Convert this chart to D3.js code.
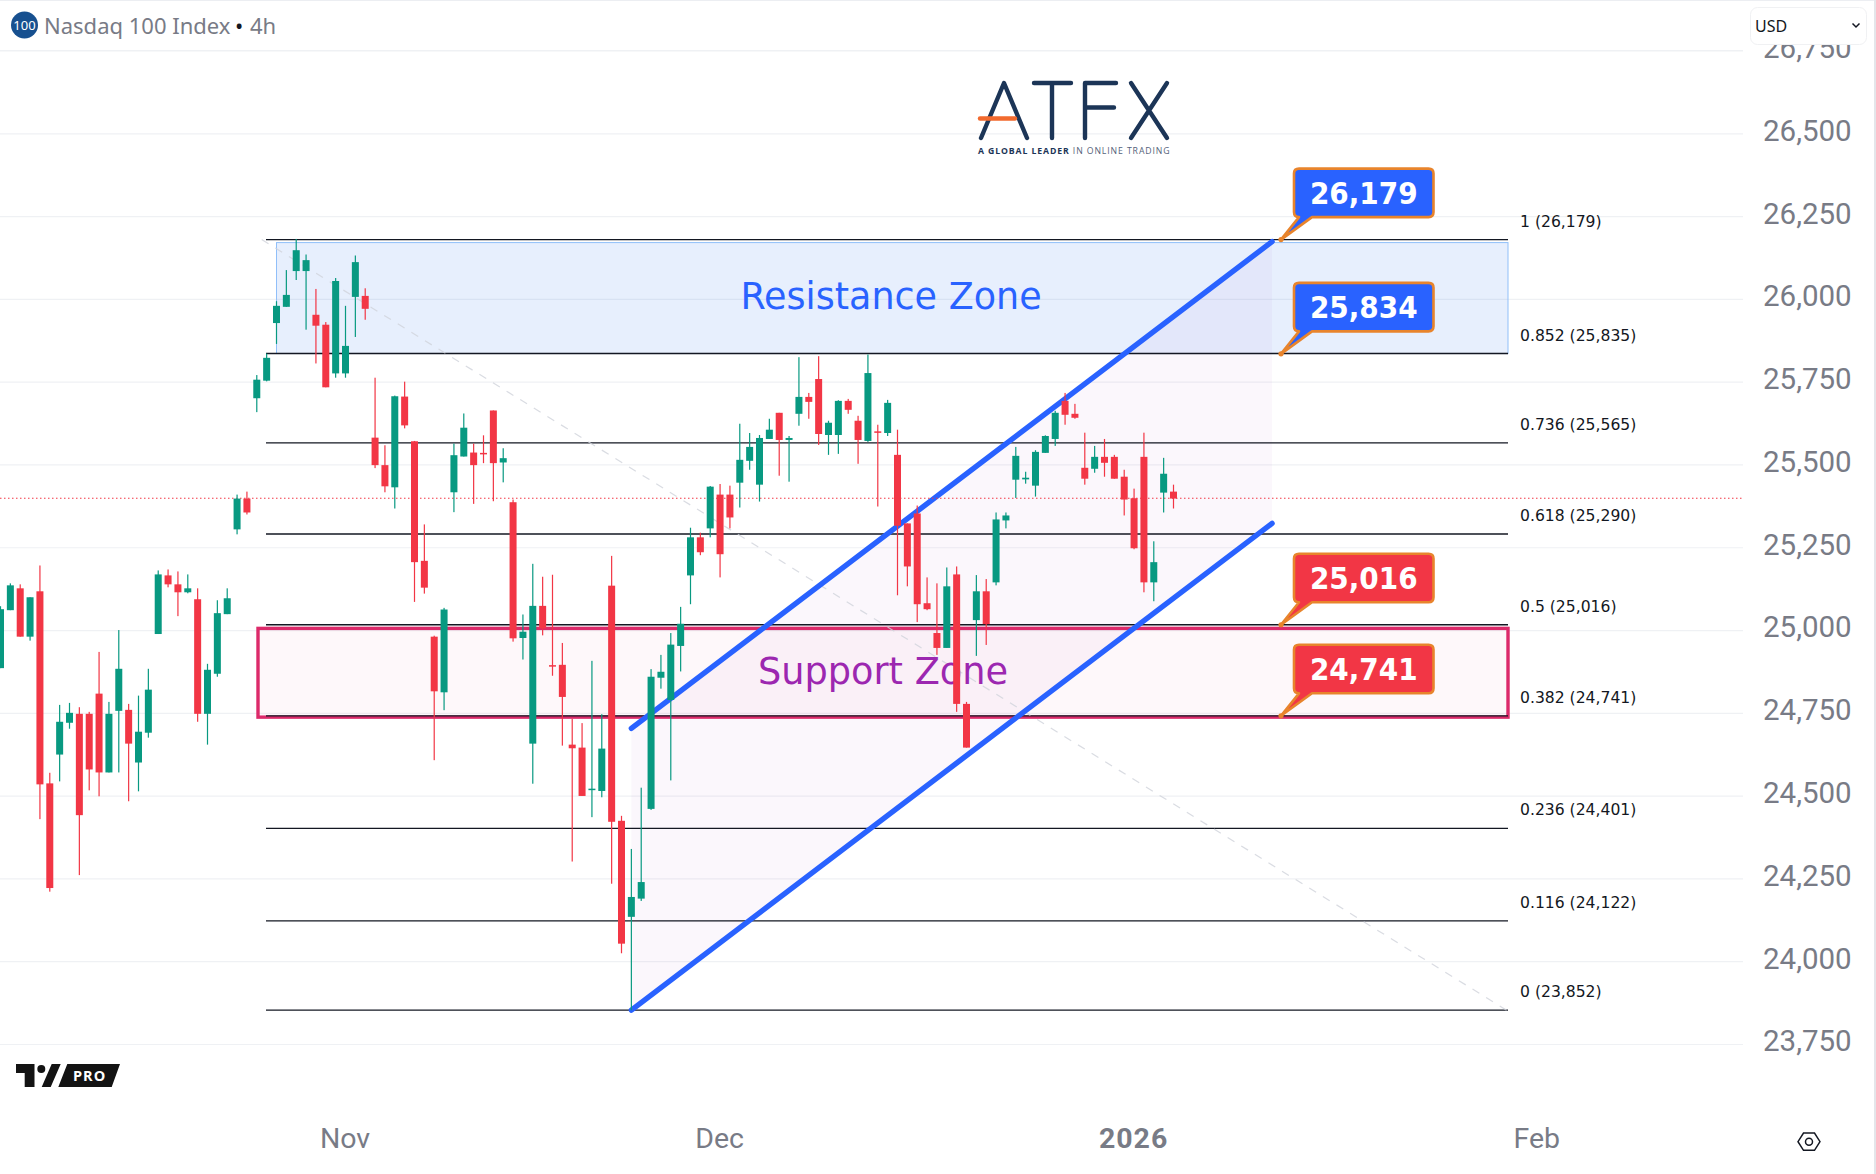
<!DOCTYPE html>
<html>
<head>
<meta charset="utf-8">
<title>Nasdaq 100 Index 4h</title>
<script src="https://cdn.jsdelivr.net/npm/d3@7"></script>
<style>
  html, body { margin: 0; padding: 0; background: #fff; }
  svg { display: block; }
</style>
</head>
<body>
<div id="chart"></div>
<script>
// 4h candles
const opens = [24885,25060,25126,24980,25117,24537,24624,24720,24747,24747,24808,24570,24756,24759,24600,24690,24988,25165,25138,25114,
  25093,24747,24868,25048,25304,25397,25700,25753,25927,25976,26084,26084,25952,25922,25775,25775,26006,26009,25581,25498,
  25431,25705,25570,25209,24980,24812,25416,25524,25536,25535,25663,25506,25386,24976,24657,25073,24894,24895,24654,24645,
  24519,24514,25134,24424,24134,24189,24460,24856,24789,24952,25165,25280,25307,25409,25409,25445,25511,25439,25577,25656,
  25574,25653,25704,25758,25589,25589,25692,25632,25571,25600,25595,25529,25322,25352,25081,24991,24946,25168,24777,25030,
  25117,25144,25331,25454,25455,25436,25535,25577,25692,25653,25490,25487,25523,25523,25463,25398,25523,25144,25415,25418];
const highs = [25072,25141,25138,25099,25195,24569,24774,24780,24767,24753,24934,24783,25000,24777,24802,24883,25180,25183,25177,25168,
  25126,24898,25090,25126,25409,25418,25770,25835,25993,26087,26181,26134,26030,25930,26063,25979,26131,26032,25762,25558,
  25708,25750,25571,25319,24983,25067,25563,25654,25563,25588,25663,25549,25394,25047,25200,25161,25167,24961,24732,24719,
  24907,24746,25224,24439,24339,24524,24882,24925,24991,25070,25309,25294,25435,25441,25436,25623,25595,25589,25638,25656,
  25586,25824,25716,25827,25632,25694,25698,25647,25832,25620,25695,25605,25322,25376,25159,25141,25189,25192,24783,25166,
  25154,25355,25355,25553,25478,25543,25588,25662,25716,25683,25596,25556,25577,25529,25484,25427,25596,25268,25520,25439];
const lows = [24885,25060,24980,24968,24429,24210,24543,24702,24260,24516,24498,24570,24570,24483,24513,24675,24988,25129,25042,25111,
  24723,24654,24859,25048,25289,25349,25658,25751,25864,25976,26057,25907,25805,25733,25762,25762,25885,25937,25489,25416,
  25367,25609,25085,25110,24607,24758,25356,25524,25381,25504,25389,25446,24965,24911,24536,24984,24862,24651,24301,24499,
  24435,24495,24234,24024,23852,24182,24457,24823,24546,24875,25078,25226,25280,25159,25307,25370,25484,25388,25577,25466,
  25448,25617,25638,25559,25529,25532,25653,25502,25568,25373,25586,25105,25132,25024,25060,24925,24946,24753,24645,24922,
  24955,25135,25307,25399,25442,25403,25535,25556,25620,25638,25439,25475,25463,25457,25346,25244,25114,25087,25355,25367];
const closes = [25063,25135,24980,25099,24534,24221,24723,24750,24441,24579,24570,24747,24883,24657,24693,24820,25168,25138,25114,25126,
  24747,24880,25051,25096,25397,25355,25756,25822,25979,26012,26147,26117,25919,25733,26054,25858,26111,25970,25498,25434,
  25706,25618,25205,25128,24815,25062,25528,25611,25498,25532,25504,25519,24975,24995,25073,25005,24890,24798,24643,24499,
  24521,24642,24421,24053,24194,24239,24859,24874,24956,25019,25280,25235,25433,25229,25340,25514,25553,25580,25605,25574,
  25580,25704,25689,25592,25626,25692,25665,25574,25776,25597,25686,25315,25192,25078,25063,24946,25132,24777,24645,25117,
  25018,25334,25346,25526,25460,25538,25586,25656,25650,25641,25457,25523,25505,25457,25394,25247,25144,25205,25472,25397];

const priceTicks = [23750,24000,24250,24500,24750,25000,25250,25500,25750,26000,26250,26500,26750];
const timeTicks = [34.9, 72.9, 114.9, 155.8];
const timeLabels = ["Nov", "Dec", "2026", "Feb"];

const fibRatios = ["1", "0.852", "0.736", "0.618", "0.5", "0.382", "0.236", "0.116", "0"];
const fibPrices = [26179, 25835, 25565, 25290, 25016, 24741, 24401, 24122, 23852];

const calloutPrices = [26179, 25834, 25016, 24741];
const calloutColors = ["#2962ff", "#2962ff", "#f23645", "#f23645"];

const resistanceZone = [26170, 25835];
const supportZone = [25005, 24737];
const lastPrice = 25398;

// channel: bar index and price at both ends
const channelBars = [64, 129];
const channelUpper = [24703, 26173];
const channelLower = [23852, 25322];

const width = 1876, height = 1174, plotRight = 1743;

const svg = d3.select("#chart").append("svg")
  .attr("width", width).attr("height", height)
  .style("font-family", "Roboto, sans-serif");

const x = d3.scaleLinear().domain([0, 119]).range([0.5, 1173.5]);
const y = d3.scaleLinear().domain([23750, 26500]).range([1044, 133.3]);
const fmt = d3.format(",");

svg.append("rect").attr("width", width).attr("height", height).attr("fill", "#fff");

// grid + price axis
const grid = svg.append("g").attr("transform", `translate(${plotRight},0)`)
  .call(d3.axisLeft(y).tickValues(priceTicks).tickSize(plotRight).tickFormat(""));
grid.select(".domain").remove();
grid.selectAll("line").attr("stroke", "#eff1f4").attr("stroke-width", 1.2);

const yAxis = svg.append("g").attr("transform", "translate(1763,-2.5)")
  .call(d3.axisRight(y).tickValues(priceTicks).tickSize(0).tickPadding(0).tickFormat(fmt));
yAxis.select(".domain").remove();
yAxis.selectAll("text").attr("fill", "#787b86").style("font-size", "29.5px").style("font-family", "Roboto, sans-serif");

// time axis
const xAxis = svg.append("g").attr("transform", "translate(0,1128)")
  .call(d3.axisBottom(x).tickValues(timeTicks).tickSize(0).tickPadding(0)
    .tickFormat((d, i) => timeLabels[i]));
xAxis.select(".domain").remove();
xAxis.selectAll("text").attr("fill", "#787b86").style("font-size", "28.5px")
  .style("font-family", "Roboto, sans-serif")
  .style("font-weight", (d, i) => timeLabels[i] === "2026" ? 700 : 400)
  .style("letter-spacing", (d, i) => timeLabels[i] === "2026" ? "1px" : "0");

// zones
const rectLeft = 276.5, rectRight = 1508;
svg.append("rect").attr("x", rectLeft).attr("y", y(resistanceZone[0]))
  .attr("width", rectRight - rectLeft).attr("height", y(resistanceZone[1]) - y(resistanceZone[0]))
  .attr("fill", "#216ef0").attr("fill-opacity", 0.11).attr("stroke", "#90bff9").attr("stroke-width", 1);

// channel fill
svg.append("path")
  .attr("d", `M${x(channelBars[0])},${y(channelUpper[0])} L${x(channelBars[1])},${y(channelUpper[1])}
    L${x(channelBars[1])},${y(channelLower[1])} L${x(channelBars[0])},${y(channelLower[0])} Z`)
  .attr("fill", "#9c27b0").attr("fill-opacity", 0.04);

svg.append("rect").attr("x", 258).attr("y", y(supportZone[0]))
  .attr("width", rectRight - 258).attr("height", y(supportZone[1]) - y(supportZone[0]))
  .attr("fill", "#e91e63").attr("fill-opacity", 0.03).attr("stroke", "#dc2a6a").attr("stroke-width", 3.4);

// fib levels
svg.append("g").selectAll("line").data(fibPrices).enter().append("line")
  .attr("x1", 266).attr("x2", rectRight)
  .attr("y1", d => y(d)).attr("y2", d => y(d))
  .attr("stroke", "#131722").attr("stroke-width", 1.3);
svg.append("g").selectAll("text").data(fibPrices).enter().append("text")
  .attr("x", 1520).attr("y", d => y(d) - 13)
  .style("font-family", "'DejaVu Sans'").style("font-size", "15.6px").attr("fill", "#131722")
  .text((d, i) => `${fibRatios[i]} (${fmt(d)})`);

// trend line between the fib anchors
svg.append("line")
  .attr("x1", x(26.5)).attr("y1", y(fibPrices[0]))
  .attr("x2", x(152.8)).attr("y2", y(fibPrices[8]))
  .attr("stroke", "#d1d4dc").attr("stroke-width", 1.2).attr("stroke-dasharray", "8 8").attr("opacity", 0.8);

// channel borders
[channelUpper, channelLower].forEach(function (ch) {
  svg.append("line")
    .attr("x1", x(channelBars[0])).attr("y1", y(ch[0]))
    .attr("x2", x(channelBars[1])).attr("y2", y(ch[1]))
    .attr("stroke", "#2962ff").attr("stroke-width", 5.4).attr("stroke-linecap", "round");
});

// zone names
svg.append("text").attr("x", 891).attr("y", 309).attr("text-anchor", "middle")
  .style("font-family", "'DejaVu Sans'").style("font-size", "36.5px").attr("fill", "#2962ff")
  .text("Resistance Zone");
svg.append("text").attr("x", 883).attr("y", 684).attr("text-anchor", "middle")
  .style("font-family", "'DejaVu Sans'").style("font-size", "36.7px").attr("fill", "#9c27b0")
  .text("Support Zone");

// last price
svg.append("line").attr("x1", 0).attr("x2", plotRight)
  .attr("y1", y(lastPrice)).attr("y2", y(lastPrice))
  .attr("stroke", "#f23645").attr("stroke-width", 1).attr("stroke-dasharray", "1.5 2.5");

// candles
const isUp = i => closes[i] >= opens[i];
const candleColor = i => isUp(i) ? "#089981" : "#f23645";
const candles = svg.append("g");
candles.selectAll(".wick").data(opens).enter().append("rect").attr("class", "wick")
  .attr("x", (d, i) => x(i) - 0.6).attr("width", 1.2)
  .attr("y", (d, i) => y(highs[i]))
  .attr("height", (d, i) => y(lows[i]) - y(highs[i]))
  .attr("fill", (d, i) => candleColor(i));
candles.selectAll(".body").data(opens).enter().append("rect").attr("class", "body")
  .attr("x", (d, i) => x(i) - 3.5).attr("width", 7)
  .attr("y", (d, i) => y(Math.max(opens[i], closes[i])))
  .attr("height", (d, i) => Math.max(1.5, Math.abs(y(opens[i]) - y(closes[i]))))
  .attr("fill", (d, i) => candleColor(i));

// callouts
const boxX0 = 1294, boxX1 = 1433.5, tipX = 1281;
calloutPrices.forEach(function (p, i) {
  const tip = y(p), top = tip - 71, bot = tip - 22.5, r = 5;
  const g = svg.append("g");
  g.append("path")
    .attr("d", `M${boxX0 + r},${top} H${boxX1 - r} Q${boxX1},${top} ${boxX1},${top + r} V${bot - r}
      Q${boxX1},${bot} ${boxX1 - r},${bot} H${boxX0 + 18} L${tipX},${tip} L${boxX0 + 5},${bot} H${boxX0 + r}
      Q${boxX0},${bot} ${boxX0},${bot - r} V${top + r} Q${boxX0},${top} ${boxX0 + r},${top} Z`)
    .attr("fill", calloutColors[i]).attr("stroke", "#e8842c").attr("stroke-width", 2.6).attr("stroke-linejoin", "round");
  g.append("circle").attr("cx", tipX).attr("cy", tip).attr("r", 2.6).attr("fill", "#e8842c");
  g.append("text").attr("x", (boxX0 + boxX1) / 2).attr("y", top + 35).attr("text-anchor", "middle")
    .style("font-family", "'DejaVu Sans Condensed', 'DejaVu Sans'").style("font-stretch", "condensed")
    .style("font-weight", 700).style("font-size", "31px").attr("fill", "#fff")
    .text(fmt(p));
});

// header
svg.append("rect").attr("x", 0).attr("y", 0).attr("width", plotRight).attr("height", 50).attr("fill", "#fff");
svg.append("line").attr("x1", 0).attr("x2", width).attr("y1", 0.5).attr("y2", 0.5).attr("stroke", "#eceef2");
svg.append("line").attr("x1", 0).attr("x2", plotRight).attr("y1", 50.5).attr("y2", 50.5).attr("stroke", "#eff1f4");
svg.append("line").attr("x1", 1875).attr("x2", 1875).attr("y1", 0).attr("y2", height).attr("stroke", "#e4e6ea").attr("stroke-width", 2);
svg.append("circle").attr("cx", 24.5).attr("cy", 25).attr("r", 13.5).attr("fill", "#17508f");
svg.append("text").attr("x", 24.5).attr("y", 30).attr("text-anchor", "middle")
  .style("font-family", "'Noto Sans'").style("font-size", "13px").attr("fill", "#fff").text("100");
svg.append("text").attr("x", 44).attr("y", 34)
  .style("font-family", "'Noto Sans'").style("font-size", "22px").attr("fill", "#787b86")
  .text("Nasdaq 100 Index");
svg.append("text").attr("x", 235).attr("y", 34)
  .style("font-family", "'Noto Sans'").style("font-size", "22px").attr("fill", "#131722").text("•");
svg.append("text").attr("x", 250).attr("y", 34)
  .style("font-family", "'Noto Sans'").style("font-size", "22px").attr("fill", "#787b86").text("4h");

// currency box
svg.append("rect").attr("x", 1750.5).attr("y", 7.5).attr("width", 116).attr("height", 37).attr("rx", 7)
  .attr("fill", "#fff").attr("stroke", "#f0f1f3");
svg.append("text").attr("x", 1755).attr("y", 32)
  .style("font-family", "'Noto Sans'").style("font-size", "16px").attr("fill", "#131722").text("USD");
svg.append("path").attr("d", "M1852.5,23.5 L1856,27 L1859.5,23.5").attr("fill", "none")
  .attr("stroke", "#131722").attr("stroke-width", 1.5);

// ATFX logo
const logo = svg.append("g").attr("fill", "none").attr("stroke", "#1c3557")
  .attr("stroke-width", 4.4).attr("stroke-linecap", "round").attr("stroke-linejoin", "round");
logo.append("path").attr("d", "M981,138 L1004,83 L1027,138");
logo.append("path").attr("d", "M1034,83 H1071 M1052,83 V138");
logo.append("path").attr("d", "M1085,138 V83 H1116 M1085,107.5 H1114");
logo.append("path").attr("d", "M1131,83 L1167,138 M1167,83 L1131,138");
svg.append("path").attr("d", "M980,118.5 H1015").attr("stroke", "#f26a2e").attr("stroke-width", 4.4).attr("stroke-linecap", "round");
const tag = svg.append("text").attr("x", 978).attr("y", 154)
  .style("font-family", "'Open Sans'").style("font-size", "8.7px").style("letter-spacing", "0.9px");
tag.append("tspan").attr("fill", "#1c3557").style("font-weight", 700).text("A GLOBAL LEADER");
tag.append("tspan").attr("fill", "#55627a").text(" IN ONLINE TRADING");

// TradingView PRO mark
svg.append("path").attr("fill", "#131313")
  .attr("d", "M16,1064 H34.5 V1087 H24.7 V1073 H16 Z M51.7,1064 H60.7 L50.7,1087 H41.7 Z M67.3,1064 H120 L111.7,1087 H58.3 Z");
svg.append("circle").attr("cx", 41.3).attr("cy", 1069).attr("r", 4).attr("fill", "#131313");
svg.append("text").attr("x", 73).attr("y", 1081)
  .style("font-family", "'Open Sans'").style("font-weight", 700).style("font-size", "14.5px")
  .style("letter-spacing", "1px").attr("fill", "#fff").text("PRO");

// settings icon
const hex = d3.range(6).map(k => [1809 + 11 * Math.cos(k * Math.PI / 3), 1141.7 + 10 * Math.sin(k * Math.PI / 3)]);
svg.append("polygon").attr("points", hex.join(" ")).attr("fill", "none").attr("stroke", "#131722").attr("stroke-width", 1.5);
svg.append("circle").attr("cx", 1809).attr("cy", 1141.7).attr("r", 3.5).attr("fill", "none").attr("stroke", "#131722").attr("stroke-width", 1.5);
</script>
</body>
</html>
